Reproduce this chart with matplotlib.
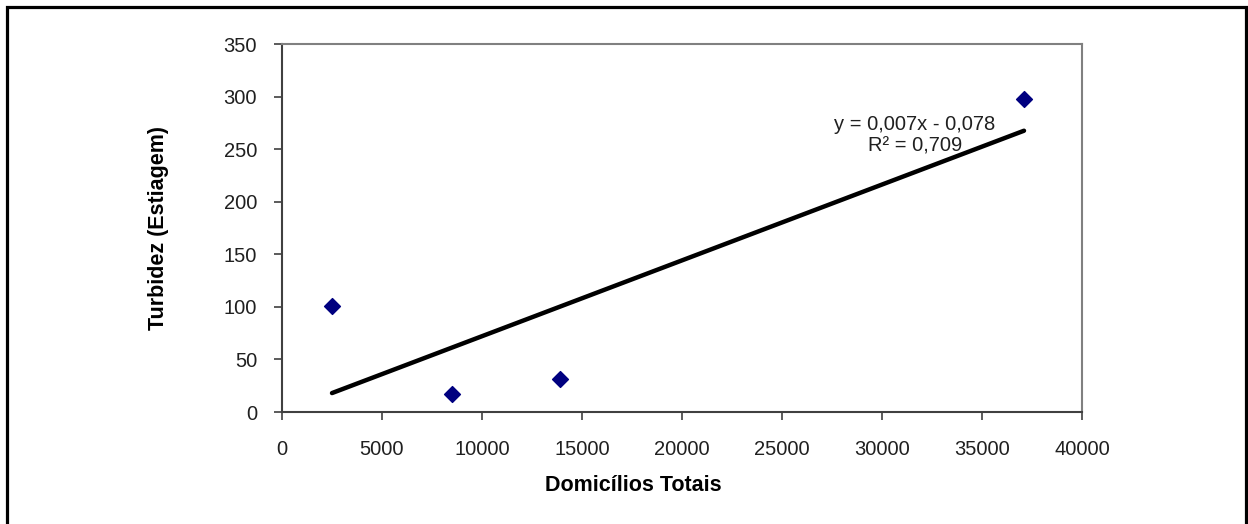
import numpy as np
import matplotlib
matplotlib.use("Agg")
import matplotlib.pyplot as plt
from matplotlib.patches import Rectangle

plt.rcParams['font.family'] = ['Liberation Sans', 'DejaVu Sans']

# dados
domicilios = [2500, 8500, 13900, 37100]
turbidez = [101, 17, 31, 298]
x_ticks = list(range(0, 40001, 5000))
y_ticks = list(range(0, 351, 50))

fig = plt.figure(figsize=(12.48, 5.24), dpi=100)
ax = fig.add_axes([282 / 1248, 112 / 524, 800 / 1248, 368 / 524])

# moldura externa
fig.patches.append(Rectangle((6.5 / 1248, -0.05), 1239.5 / 1248, 1.05 - 6.5 / 524,
                             transform=fig.transFigure, fill=False,
                             edgecolor='black', linewidth=2.3))

ax.scatter(domicilios, turbidez, marker='D', s=65, color='#000080', zorder=3)

# linha de tendência linear
coef = np.polyfit(domicilios, turbidez, 1)
xs = np.array([min(domicilios), max(domicilios)])
ax.plot(xs, np.polyval(coef, xs), color='black', linewidth=3.2, solid_capstyle='round', zorder=2)

ax.text(31650, 263, 'y = 0,007x - 0,078\nR² = 0,709', ha='center', va='center',
        fontsize=14.5, linespacing=1.15, color='#202020')

ax.set_xlim(0, 40000)
ax.set_ylim(0, 350)
ax.set_xticks(x_ticks)
ax.set_yticks(y_ticks)
ax.tick_params(labelsize=14.5, length=6, width=1.2, color='#404040', labelcolor='#202020',
               direction='out')
ax.tick_params(axis='x', pad=14)
ax.tick_params(axis='y', pad=12)

for s in ['left', 'bottom']:
    ax.spines[s].set_color('#404040')
    ax.spines[s].set_linewidth(1.5)
for s in ['top', 'right']:
    ax.spines[s].set_color('#808080')
    ax.spines[s].set_linewidth(1.5)

ax.set_xlabel('Domicílios Totais', fontsize=15.5, fontweight='bold')
ax.xaxis.set_label_coords(0.439, -0.171)
ax.set_ylabel('Turbidez (Estiagem)', fontsize=15.5, fontweight='bold')
ax.yaxis.set_label_coords(-0.141, 0.5)

fig.savefig('out.png', dpi=100)
